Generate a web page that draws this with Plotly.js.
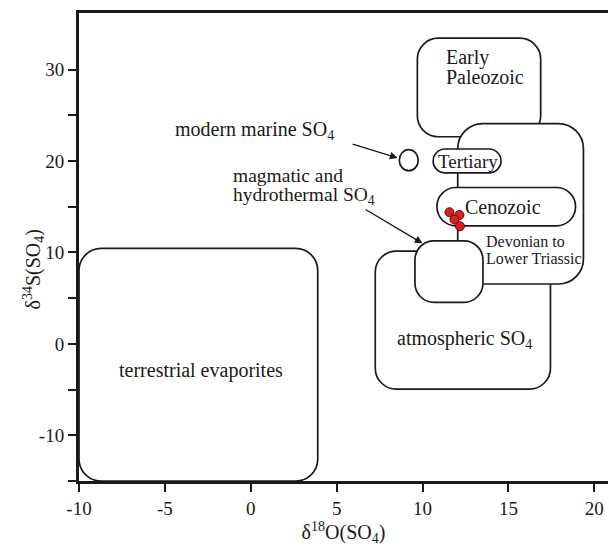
<!DOCTYPE html>
<html>
<head>
<meta charset="utf-8">
<script src="https://cdn.plot.ly/plotly-3.0.1.min.js"></script>
<style>html,body{margin:0;padding:0;background:#fff;}#chart{width:609px;height:548px;}</style>
</head>
<body>
<div id="chart"></div>
<script>
// ---- data: source fields as rounded boxes (d18O range, d34S range) ----
const regionNames = ["terrestrial evaporites", "atmospheric SO4", "Early Paleozoic", "Devonian to Lower Triassic", "magmatic and hydrothermal SO4", "Tertiary", "Cenozoic"];
const regionX0 = [-10.0, 7.25, 9.7, 12.05, 9.56, 10.62, 10.84];
const regionX1 = [3.9, 17.45, 16.88, 19.37, 13.52, 14.57, 18.91];
const regionY0 = [-15.0, -4.95, 22.66, 6.55, 4.55, 18.72, 12.92];
const regionY1 = [10.45, 10.15, 33.45, 24.1, 11.27, 21.32, 17.11];

// modern marine SO4 (small ellipse)
const marineX = [8.65, 9.75];
const marineY = [18.95, 21.25];

// samples
const sampleO = [11.57, 12.15, 11.86, 12.18];
const sampleS = [14.40, 14.10, 13.60, 12.87];

const xTicks = [-10, -5, 0, 5, 10, 15, 20];
const yTickVals = [-15, -10, -5, 0, 5, 10, 15, 20, 25, 30];
const yTickText = ["", "-10", "", "0", "", "10", "", "20", "", "30"];

// ---- layout geometry ----
const W = 609, H = 548;
const M = {l: 79, r: 1, t: 13, b: 67};
const xRange = [-10, 20.8], yRange = [-15, 36.2];
const pxX = (W - M.l - M.r) / (xRange[1] - xRange[0]);
const pxY = (H - M.t - M.b) / (yRange[1] - yRange[0]);

// corner radius in pixels per region (style)
const radiusPx = [22, 21, 21, 25, 19, 12, 19];
const LW = 1.7, LC = "#1a1a1a";

function roundRectPath(x0, x1, y0, y1, r) {
  const rx = Math.min(r / pxX, (x1 - x0) / 2), ry = Math.min(r / pxY, (y1 - y0) / 2);
  const k = 0.5523;
  const p = [];
  p.push(`M${x0+rx},${y1}`);
  p.push(`L${x1-rx},${y1}`);
  p.push(`C${x1-rx+k*rx},${y1} ${x1},${y1-ry+k*ry} ${x1},${y1-ry}`);
  p.push(`L${x1},${y0+ry}`);
  p.push(`C${x1},${y0+ry-k*ry} ${x1-rx+k*rx},${y0} ${x1-rx},${y0}`);
  p.push(`L${x0+rx},${y0}`);
  p.push(`C${x0+rx-k*rx},${y0} ${x0},${y0+ry-k*ry} ${x0},${y0+ry}`);
  p.push(`L${x0},${y1-ry}`);
  p.push(`C${x0},${y1-ry+k*ry} ${x0+rx-k*rx},${y1} ${x0+rx},${y1}`);
  p.push("Z");
  return p.join(" ");
}
function box(i) {
  return {
    type: "path", xref: "x", yref: "y", layer: "below",
    path: roundRectPath(regionX0[i], regionX1[i], regionY0[i], regionY1[i], radiusPx[i]),
    line: {color: LC, width: LW}, fillcolor: "white"
  };
}
// drawing order: later boxes cover earlier ones
const drawOrder = [0, 1, 2, 3, 4, 5, 6];
const shapes = drawOrder.map(box);
shapes.push({type: "circle", xref: "x", yref: "y", layer: "below",
  x0: marineX[0], x1: marineX[1], y0: marineY[0], y1: marineY[1],
  line: {color: LC, width: LW}, fillcolor: "white"});

const FONT = "Liberation Serif";
const f = (s) => ({family: FONT, size: s, color: "#1a1a1a"});

const annotations = [
  {x: -2.9, y: -2.9, text: "terrestrial evaporites", font: f(20)},
  {x: 12.47, y: 0.5, text: "atmospheric SO<sub>4</sub>", font: f(20)},
  {x: 11.25, y: 31.35, text: "Early", font: f(20), xanchor: "left"},
  {x: 11.25, y: 29.2, text: "Paleozoic", font: f(20), xanchor: "left"},
  {x: 12.65, y: 19.98, text: "Tertiary", font: f(19)},
  {x: 14.71, y: 15.02, text: "Cenozoic", font: f(20)},
  {x: 13.6, y: 11.15, text: "Devonian to", font: f(16), xanchor: "left"},
  {x: 13.6, y: 9.33, text: "Lower Triassic", font: f(16), xanchor: "left"},
  {x: 0.24, y: 23.3, text: "modern marine SO<sub>4</sub>", font: f(20)},
  {x: -1.1, y: 18.4, text: "magmatic and", font: f(19.5), xanchor: "left", borderpad: 0},
  {x: -1.1, y: 16.2, text: "hydrothermal SO<sub>4</sub>", font: f(19.5), xanchor: "left", borderpad: 0},
  // arrows
  {x: 8.55, y: 20.35, ax: 5.85, ay: 21.9, axref: "x", ayref: "y", text: "", showarrow: true,
   arrowhead: 2, arrowsize: 1.1, arrowwidth: 1.4, arrowcolor: LC},
  {x: 10.0, y: 11.0, ax: 6.6, ay: 14.8, axref: "x", ayref: "y", text: "", showarrow: true,
   arrowhead: 2, arrowsize: 1.1, arrowwidth: 1.4, arrowcolor: LC},
  // y axis title
  {xref: "paper", yref: "y", x: -0.115, y: 8.15, textangle: -90,
   text: "δ<sup>34</sup>S(SO<sub>4</sub>)", font: f(20)}
].map(a => Object.assign({xref: "x", yref: "y", showarrow: false}, a));

const traces = [{
  type: "scatter", mode: "markers", x: sampleO, y: sampleS,
  marker: {size: 9, color: "#d91f1f", line: {color: "#5a0a0a", width: 1}},
  hoverinfo: "x+y", showlegend: false
}];

const layout = {
  width: W, height: H, margin: M,
  paper_bgcolor: "white", plot_bgcolor: "white",
  showlegend: false,
  font: f(19),
  xaxis: {
    range: xRange, tickvals: xTicks, ticktext: xTicks.map(String),
    ticks: "outside", ticklen: 8, tickwidth: 2, tickcolor: "#1a1a1a",
    showline: true, linewidth: 3, linecolor: "#1a1a1a", mirror: true,
    showgrid: false, zeroline: false, tickfont: f(19),
    title: {text: "δ<sup>18</sup>O(SO<sub>4</sub>)", font: f(20), standoff: 8}
  },
  yaxis: {
    range: yRange, tickvals: yTickVals, ticktext: yTickText,
    ticks: "outside", ticklen: 8, tickwidth: 2, tickcolor: "#1a1a1a",
    showline: true, linewidth: 3, linecolor: "#1a1a1a", mirror: false,
    showgrid: false, zeroline: false, tickfont: f(19)
  },
  shapes: shapes,
  annotations: annotations
};

Plotly.newPlot("chart", traces, layout, {displayModeBar: false, staticPlot: true});
</script>
</body>
</html>
